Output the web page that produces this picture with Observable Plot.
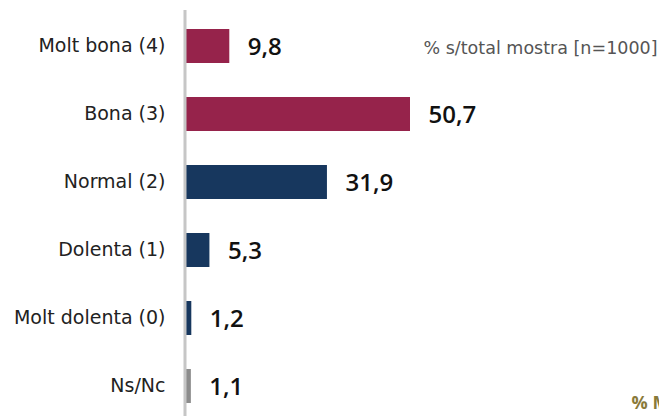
<!DOCTYPE html>
<html>
<head>
<meta charset="utf-8">
<script src="https://cdn.jsdelivr.net/npm/d3@7"></script>
<script src="https://cdn.jsdelivr.net/npm/@observablehq/plot@0.6"></script>
<style>
  html, body { margin: 0; padding: 0; background: #fff; }
  #chart svg { display: block; }
</style>
</head>
<body>
<div id="chart"></div>
<script>
const categories = ["Molt bona (4)", "Bona (3)", "Normal (2)", "Dolenta (1)", "Molt dolenta (0)", "Ns/Nc"];
const values = [9.8, 50.7, 31.9, 5.3, 1.2, 1.1];
const groups = ["pos", "pos", "neu", "neg", "neg", "nsnc"];
const noteText = "% s/total mostra [n=1000]";
const cornerText = "% Mostra";

const data = categories.map((c, i) => ({cat: c, value: values[i], group: groups[i]}));
const fmt = v => v.toFixed(1).replace(".", ",");

const chart = Plot.plot({
  width: 659,
  height: 416,
  marginTop: 10,
  marginBottom: 0,
  marginLeft: 0,
  marginRight: 0,
  style: {fontFamily: "'DejaVu Sans', sans-serif", background: "#fff", overflow: "hidden"},
  x: {domain: [0, 50.7], range: [186, 410], axis: null},
  y: {domain: categories, range: [8.5, 422.5], paddingInner: 0.507, paddingOuter: 0.254, axis: null},
  color: {domain: ["pos", "neu", "neg", "nsnc"], range: ["#96234b", "#17375e", "#17375e", "#8c8c8c"]},
  marks: [
    Plot.barX(data, {x: "value", y: "cat", fill: "group"}),
    Plot.ruleX([0], {stroke: "#c6c6c6", strokeWidth: 3, dx: -1.5}),
    Plot.text(data, {x: 0, y: "cat", text: "cat", dx: -21, dy: -1, textAnchor: "end", fontSize: 19, fill: "#222"}),
    Plot.text(data, {x: "value", y: "cat", text: d => fmt(d.value), dx: 18, dy: 1, textAnchor: "start", fontSize: 24, fontWeight: 600, fontFamily: "'Open Sans', sans-serif", fill: "#111"}),
    Plot.text([noteText], {y: [categories[0]], text: d => d, frameAnchor: "right", dx: -2, dy: 2, textAnchor: "end", fontSize: 17.5, fill: "#555"}),
    Plot.text([cornerText], {text: d => d, frameAnchor: "bottom-right", dx: -28, dy: -8, textAnchor: "start", fontSize: 18, fontWeight: 700, fontFamily: "'Open Sans', sans-serif", fill: "#8a7a3a"})
  ]
});
document.getElementById("chart").appendChild(chart);
</script>
</body>
</html>
